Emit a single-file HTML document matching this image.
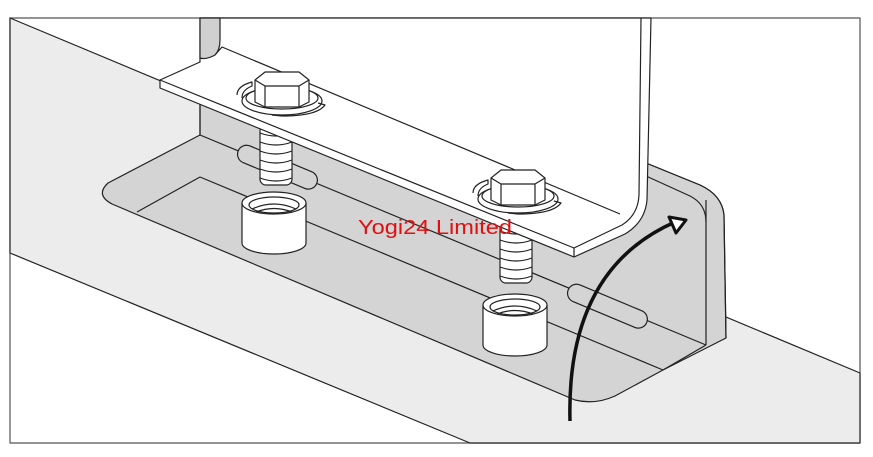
<!DOCTYPE html>
<html><head><meta charset="utf-8"><style>html,body{margin:0;padding:0;background:#fff}svg{display:block}</style></head>
<body>
<svg width="873" height="457" viewBox="0 0 873 457" xmlns="http://www.w3.org/2000/svg" stroke="#222" stroke-width="1.2" stroke-linejoin="round" fill="none">
<defs>
<g id="bolt">
  <path d="M-45,-3 Q-45,-12 -30,-16 L-30,-12 Q-40,-8 -40,0" fill="#fff"/>
  <ellipse cx="0" cy="3" rx="40" ry="14" fill="#fff"/>
  <ellipse cx="0" cy="0" rx="36" ry="11" fill="#fff"/>
  <path d="M36,5 L43,7 Q35,18 0,18 L-10,17" />
  <path d="M-27,-18 L-17,-26 L17,-26 L27,-18 L27,4 L17,9 L-17,9 L-27,4 Z" fill="#fff"/>
  <path d="M-27,-18 L-17,-12 L17,-12 L27,-18 M-17,-12 L-17,9 M17,-12 L17,9"/>
</g>
<g id="shank">
  <rect x="-16" y="0" width="32" height="60" rx="6" fill="#fff"/>
  <path d="M-16,8 Q0,14 16,8 M-16,17 Q0,23 16,17 M-16,26 Q0,32 16,26 M-16,35 Q0,41 16,35 M-16,44 Q0,50 16,44 M-16,53 Q0,59 16,53"/>
</g>
<g id="nut">
  <path d="M-32,0 L-32,40 A32,11 0 0 0 32,40 L32,0" fill="#fff"/>
  <ellipse cx="0" cy="0" rx="32" ry="11" fill="#fff"/>
  <ellipse cx="0" cy="2" rx="25" ry="8" fill="#fff"/>
  <path d="M-22,6 Q0,-4 22,6 M-18,9 Q0,2 18,9"/>
</g>
</defs>
<rect x="10" y="18" width="850" height="425" fill="#fff" stroke="#555"/>
<path d="M10,18 L860,373 L860,443 L470,443 L10,253 Z" fill="#ececec"/>
<path d="M200,60 L200,135 L108,183 Q95,195 112,204 L575,400 Q595,405 615,396 L663,370 L726,338 L724,215 Q722,195 700,185 L646,163 L646,60 Z" fill="#d4d4d4"/>
<path d="M200,177 L137,212 M200,177 L663,370 M200,135 L706,345 M706,200 L706,345 M663,370 L706,345 M646,163 L700,185 Q722,195 724,215 L726,338"/>
<path d="M646,176 L690,196 Q706,204 706,222"/>
<rect x="235" y="158" width="85" height="18" rx="9" transform="rotate(22.7 277 167)" fill="#d4d4d4"/>
<rect x="565" y="297" width="85" height="18" rx="9" transform="rotate(22.7 607 306)" fill="#d4d4d4"/>
<use href="#shank" transform="translate(276,125)"/>
<use href="#shank" transform="translate(516,223)"/>
<path d="M160,80 L200,62 L200,18 L651,18 L647,200 Q645,222 625,234 L574,257 L160,88 Z" fill="#fff"/>
<path d="M200,18 L200,58 Q206,60 215,55 Q220,50 220,40 L220,18 Z" fill="#d0d0d0"/>
<path d="M160,80 L574,248 L574,257 M574,248 L622,225 Q638,215 639,195 L641,18 M215,55 L222,47 L620,214"/>
<line x1="200" y1="105" x2="200" y2="135"/>
<use href="#bolt" transform="translate(282,98)"/>
<use href="#bolt" transform="translate(518,196)"/>
<use href="#nut" transform="translate(274,203)"/>
<use href="#nut" transform="translate(515,305)"/>
<path d="M570,421 Q566,270 675,222" stroke="#111" stroke-width="3.5"/>
<path d="M669,217 L686,220 L676,233 Z" stroke="#111" stroke-width="3" fill="#fff"/>
<text x="358" y="234" fill="#e01010" stroke="none" font-family="Liberation Sans, sans-serif" font-size="20" textLength="154" lengthAdjust="spacingAndGlyphs">Yogi24 Limited</text>
</svg>
</body></html>
